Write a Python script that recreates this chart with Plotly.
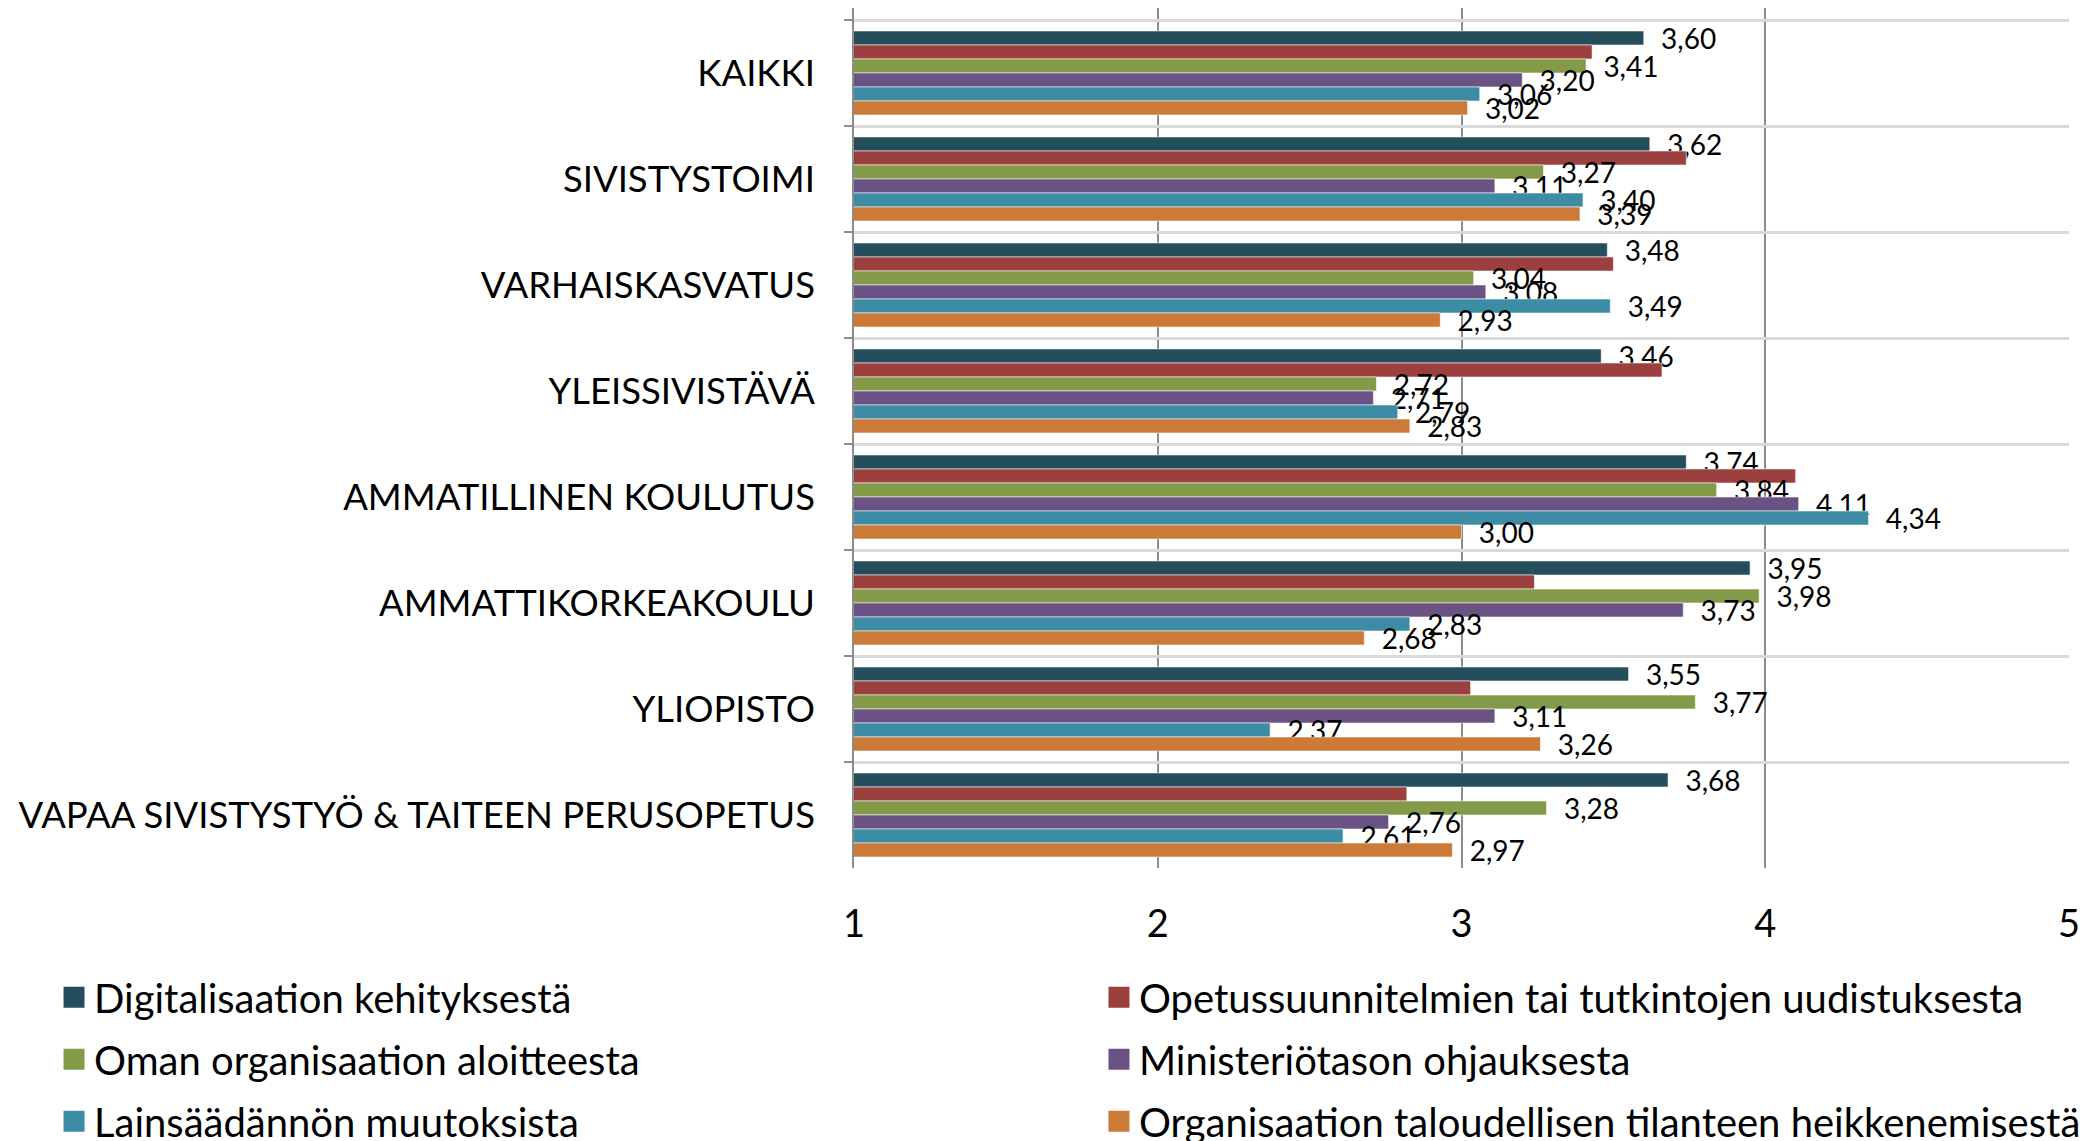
import plotly.graph_objects as go

categories = ["KAIKKI", "SIVISTYSTOIMI", "VARHAISKASVATUS", "YLEISSIVISTÄVÄ",
              "AMMATILLINEN KOULUTUS", "AMMATTIKORKEAKOULU", "YLIOPISTO",
              "VAPAA SIVISTYSTYÖ & TAITEEN PERUSOPETUS"]

series_names = ["Digitalisaation kehityksestä",
                "Opetussuunnitelmien tai tutkintojen uudistuksesta",
                "Oman organisaation aloitteesta",
                "Ministeriötason ohjauksesta",
                "Lainsäädännön muutoksista",
                "Organisaation taloudellisen tilanteen heikkenemisestä"]

digitalisaatio = [3.60, 3.62, 3.48, 3.46, 3.74, 3.95, 3.55, 3.68]
opetussuunnitelmat = [3.43, 3.74, 3.50, 3.66, 4.10, 3.24, 3.03, 2.82]
oma_organisaatio = [3.41, 3.27, 3.04, 2.72, 3.84, 3.98, 3.77, 3.28]
ministerio = [3.20, 3.11, 3.08, 2.71, 4.11, 3.73, 3.11, 2.76]
lainsaadanto = [3.06, 3.40, 3.49, 2.79, 4.34, 2.83, 2.37, 2.61]
talous = [3.02, 3.39, 2.93, 2.83, 3.00, 2.68, 3.26, 2.97]

series_values = [digitalisaatio, opetussuunnitelmat, oma_organisaatio,
                 ministerio, lainsaadanto, talous]
show_labels = [True, False, True, True, True, True]
colors = ["#244E5B", "#9C3F3F", "#839A49", "#6A5285", "#3C8CA5", "#CC7A38"]

x_ticks = [1, 2, 3, 4, 5]

FONT = "Lato, 'Open Sans', sans-serif"

fig = go.Figure()
for i, (name, vals, col, lab) in enumerate(zip(series_names, series_values, colors, show_labels)):
    fig.add_trace(go.Bar(
        y=categories, x=vals, orientation="h", name=name,
        marker=dict(color=col, line=dict(color="rgba(255,255,255,0.55)", width=1)),
        texttemplate="\u00a0\u00a0%{x:.2f}" if lab else None,
        textposition="outside" if lab else "none",
        constraintext="none", cliponaxis=False,
        textfont=dict(family=FONT, size=28, color="#000000"),
        showlegend=False, legendgroup=f"g{i}",
    ))

for i, (name, col) in enumerate(zip(series_names, colors)):
    fig.add_trace(go.Scatter(
        x=[None], y=[None], mode="markers", name=name,
        marker=dict(symbol="square", size=16, color=col, line=dict(color=col, width=5)),
        legendgroup=f"g{i}",
        legend="legend" if i % 2 == 0 else "legend2",
        showlegend=True,
    ))

legend_common = dict(
    orientation="v", xref="container", yref="container",
    xanchor="left", yanchor="top",
    font=dict(family=FONT, size=40, color="#000000"),
    bgcolor="rgba(0,0,0,0)", tracegroupgap=7, traceorder="grouped",
)

# category band ~106 px; small extra space above first boundary
n_cat = len(categories)
top_extra = 0.1132

fig.update_layout(
    width=2092, height=1133,
    barmode="group", bargap=0.2075, bargroupgap=0,
    separators=", ",
    plot_bgcolor="white", paper_bgcolor="white",
    margin=dict(l=846, r=31, t=0, b=273, autoexpand=False),
    font=dict(family=FONT, color="#000000"),
    legend=dict(x=0.022, y=0.1555, **legend_common),
    legend2=dict(x=0.5215, y=0.1555, **legend_common),
    xaxis=dict(
        range=[1, 5], tickvals=x_ticks, ticktext=[str(t) for t in x_ticks],
        showgrid=True, gridcolor="#8C8C8C", gridwidth=1.5,
        zeroline=False, showline=False, ticks="",
        tickfont=dict(family=FONT, size=38, color="#000000"),
        ticklabelstandoff=30,
    ),
    yaxis=dict(
        type="category", range=[n_cat - 0.5, -0.5 - top_extra], tickson="boundaries",
        ticks="outside", ticklen=8, tickcolor="#8C8C8C", tickwidth=1.5,
        showgrid=True, gridcolor="#D9D9D9", gridwidth=3,
        showline=True, linecolor="#8C8C8C", linewidth=1.5,
        tickfont=dict(family=FONT, size=36.5, color="#000000"),
        ticklabelstandoff=30,
    ),
)

fig.write_html("out.html")
